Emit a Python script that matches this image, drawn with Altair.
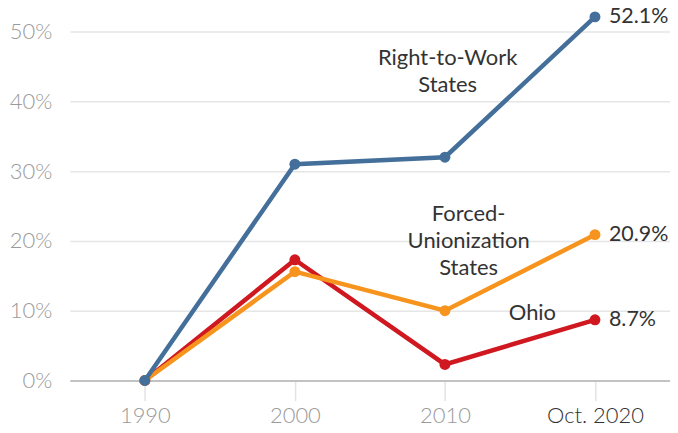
import altair as alt
import pandas as pd

periods = ["1990", "2000", "2010", "Oct. 2020"]
right_to_work = [0.0, 31.0, 32.0, 52.1]
forced_union = [0.0, 15.6, 10.0, 20.9]
ohio = [0.0, 17.3, 2.3, 8.7]
series_names = ["Ohio", "Forced-Unionization States", "Right-to-Work States"]
series_colors = ["#cf1820", "#f7941e", "#436f9a"]
y_ticks = [0, 10, 20, 30, 40, 50]

rows = []
for name, vals in zip(series_names, [ohio, forced_union, right_to_work]):
    for p, v in zip(periods, vals):
        rows.append({"period": p, "value": v, "series": name,
                     "label": f"{v:.1f}%"})
df = pd.DataFrame(rows)

FONT = "Lato"
x_enc = alt.X("period:N", sort=periods, title=None,
              scale=alt.Scale(type="point", padding=0.5),
              axis=alt.Axis(labelAngle=0, labelFontSize=22, labelFont=FONT,
                            labelFontWeight=300,
                            labelColor=alt.ExprRef("datum.value == 'Oct. 2020' ? '#333333' : '#9a9a9a'"),
                            tickSize=20, tickColor="#e3e3e3", tickWidth=1.5,
                            domainColor="#b5b5b5", domainWidth=1.5,
                            labelPadding=5, grid=False))
y_enc = alt.Y("value:Q", title=None,
              scale=alt.Scale(domain=[0, 52], nice=False),
              axis=alt.Axis(values=y_ticks, format=".0f",
                            labelExpr="datum.value + '%'",
                            labelFontSize=22, labelFont=FONT, labelFontWeight=300,
                            labelColor="#9a9a9a", labelPadding=18,
                            domain=False, ticks=False,
                            gridColor="#e6e6e6", gridWidth=1.5))

layers = []
for name, color in zip(series_names, series_colors):
    base = alt.Chart(df).transform_filter(alt.datum.series == name)
    layers.append(base.mark_line(color=color, strokeWidth=4.5).encode(x=x_enc, y=y_enc))
    layers.append(base.mark_point(color=color, filled=True, opacity=1, size=120)
                  .encode(x=x_enc, y=y_enc))
    layers.append(base.transform_filter(alt.datum.period == "Oct. 2020")
                  .mark_text(align="left", baseline="middle", dx=14, fontSize=21.5,
                             font=FONT, color="#333333")
                  .encode(x=x_enc, y=y_enc, text="label:N"))

ann = pd.DataFrame({"t": ["Right-to-Work|States", "Forced-|Unionization|States", "Ohio"]})
annots = []
for t, xp, yp in [("Right-to-Work|States", 379, 41),
                  ("Forced-|Unionization|States", 400, 197),
                  ("Ohio", 464, 296)]:
    annots.append(alt.Chart(ann).transform_filter(alt.datum.t == t)
                  .mark_text(align="center", baseline="middle", fontSize=22, font=FONT,
                             color="#333333", lineBreak="|", lineHeight=27)
                  .encode(x=alt.value(xp), y=alt.value(yp), text="t:N"))

chart = alt.layer(*layers, *annots).properties(
    width=602, height=364,
    autosize=alt.AutoSizeParams(type="none"),
    padding={"left": 62, "top": 9, "right": 0, "bottom": 50},
).configure_view(stroke=None)

chart.save("out.html", embed_options={"renderer": "svg", "actions": False})
